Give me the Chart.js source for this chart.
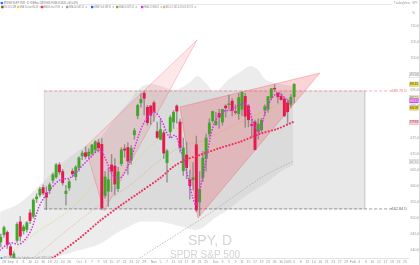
<!DOCTYPE html>
<html lang="en">
<head>
  <meta charset="UTF-8" />
  <title>SPY, D</title>
  <script src="https://cdn.jsdelivr.net/npm/chart.js"></script>
  <style>
    html, body { margin: 0; padding: 0; background: #ffffff; }
    #chart { display: block; }
  </style>
</head>
<body>
  <canvas id="chart" width="420" height="265"></canvas>

  <script>
    // daily bars, first one sits at bar index -1 (Aug 27, partly cut off)
    const firstBarIndex = -1;
    const candleDates = ['Aug 27','Aug 28','Aug 29',
      'Sep 2','Sep 3','Sep 4','Sep 5','Sep 8','Sep 9','Sep 10','Sep 11','Sep 12','Sep 15','Sep 16','Sep 17','Sep 18','Sep 19','Sep 22','Sep 23','Sep 24','Sep 25','Sep 26','Sep 29','Sep 30',
      'Oct 1','Oct 2','Oct 3','Oct 6','Oct 7','Oct 8','Oct 9','Oct 10','Oct 13','Oct 14','Oct 15','Oct 16','Oct 17','Oct 20','Oct 21','Oct 22','Oct 23','Oct 24','Oct 27','Oct 28','Oct 29','Oct 30','Oct 31',
      'Nov 3','Nov 4','Nov 5','Nov 6','Nov 7','Nov 10','Nov 11','Nov 12','Nov 13','Nov 14','Nov 17','Nov 18','Nov 19','Nov 20','Nov 21','Nov 24','Nov 25','Nov 26','Nov 28',
      'Dec 1','Dec 2','Dec 3','Dec 4','Dec 5','Dec 8','Dec 9','Dec 10','Dec 11','Dec 12','Dec 15','Dec 16','Dec 17','Dec 18','Dec 19','Dec 22','Dec 23','Dec 24','Dec 26','Dec 29','Dec 30','Dec 31',
      'Jan 2','Jan 5','Jan 6'];

    const openP = [642.5, 644.8, 645.5,
      641.0, 637.2, 643.0, 648.8, 646.0, 646.4, 651.6, 650.5, 656.0, 657.2, 659.5, 657.8, 658.6, 661.8, 662.8, 666.6, 664.5, 657.6, 659.4, 664.6, 662.9,
      665.8, 669.4, 670.4, 669.5, 670.2, 671.3, 673.5, 673.0, 657.0, 658.4, 666.6, 666.2, 659.2, 667.0, 671.6, 672.0, 668.0, 676.0, 682.0, 686.0, 689.0, 684.6, 685.0,
      686.0, 677.0, 674.6, 676.6, 667.3, 677.0, 680.0, 685.0, 680.0, 664.8, 669.7, 662.0, 662.0, 672.9, 655.0, 662.7, 668.6, 676.3, 680.4,
      679.2, 682.7, 680.0, 685.0, 685.4, 686.5, 683.2, 682.6, 684.0, 688.0, 685.0, 679.2, 680.0, 677.0, 677.6, 683.8, 684.0, 687.6, 690.5, 689.0, 688.0, 687.2,
      686.0, 685.5, 687.9];
    const highP = [645.0, 647.5, 646.0,
      641.8, 639.5, 648.6, 650.5, 647.8, 648.9, 652.6, 656.0, 657.6, 659.6, 660.4, 659.8, 661.0, 664.0, 667.1, 667.3, 665.2, 660.2, 662.0, 665.4, 666.4,
      669.2, 671.0, 672.2, 671.6, 673.0, 674.2, 674.6, 674.8, 664.5, 665.6, 669.9, 668.6, 665.8, 672.0, 672.9, 673.6, 672.6, 678.0, 685.6, 688.9, 689.7, 685.2, 685.2,
      686.6, 680.0, 680.9, 677.4, 671.4, 682.0, 683.6, 685.4, 680.9, 675.0, 673.7, 665.0, 667.3, 675.6, 664.5, 670.8, 676.2, 681.0, 683.4,
      683.0, 684.0, 684.0, 685.4, 688.4, 687.3, 685.4, 688.9, 689.5, 688.9, 685.5, 681.0, 680.6, 681.0, 681.1, 685.4, 688.0, 690.5, 691.7, 689.2, 688.9, 687.4,
      687.0, 688.6, 692.0];
    const lowP = [641.0, 644.0, 640.5,
      636.8, 636.5, 642.4, 642.8, 645.0, 645.6, 648.2, 650.0, 654.8, 656.6, 657.2, 652.6, 657.6, 661.0, 662.4, 663.6, 660.3, 654.0, 658.6, 662.8, 661.8,
      664.6, 668.2, 668.4, 668.8, 669.6, 670.6, 670.6, 652.6, 656.2, 653.6, 658.2, 657.2, 658.2, 666.4, 669.0, 663.6, 666.8, 674.6, 681.0, 684.6, 682.2, 679.0, 679.2,
      680.2, 674.8, 674.4, 668.6, 661.2, 675.2, 678.0, 679.6, 670.6, 663.3, 662.3, 655.9, 658.8, 651.9, 650.8, 661.4, 664.6, 675.4, 679.9,
      678.9, 678.0, 679.0, 681.5, 684.0, 682.0, 682.4, 680.8, 682.0, 678.4, 678.5, 675.0, 671.2, 674.6, 676.7, 682.0, 683.0, 687.3, 689.5, 685.9, 686.8, 681.7,
      679.6, 684.6, 686.0];
    const closeP = [644.0, 647.0, 641.6,
      638.4, 638.8, 648.0, 644.3, 647.2, 648.5, 649.2, 655.6, 656.6, 659.0, 657.8, 656.5, 660.4, 663.5, 666.6, 664.4, 661.0, 658.4, 661.3, 663.8, 665.9,
      668.8, 670.3, 669.2, 670.6, 672.8, 673.8, 671.9, 653.1, 662.8, 662.0, 664.6, 660.6, 664.4, 671.3, 671.2, 667.8, 671.8, 677.3, 685.2, 687.1, 687.4, 679.8, 682.1,
      683.3, 675.2, 677.6, 670.3, 671.0, 681.4, 683.0, 683.4, 672.0, 671.9, 665.7, 660.1, 662.6, 652.5, 659.0, 668.7, 675.0, 679.7, 683.3,
      680.3, 681.5, 683.9, 684.4, 685.7, 683.6, 683.0, 687.6, 689.2, 681.8, 680.7, 678.9, 671.4, 679.4, 680.6, 684.8, 687.9, 690.4, 690.3, 687.9, 687.0, 681.9,
      683.2, 687.7, 691.8];

    // overlays, read at bar index / price
    const magentaX = [-1.2, 1.8, 4.9, 8.0, 11.0, 14.1, 17.2, 20.2, 23.3, 26.4, 29.4, 31.3, 33.4, 35.6, 37.7, 39.6, 42.6, 45.7, 47.9, 50.9, 52.5, 54.0, 55.8, 57.7, 58.9, 60.1, 62.0, 64.1, 66.9, 69.9, 73.3, 74.8, 76.4, 78.2, 80.7, 83.7, 85.3, 87.1, 88.7];
    const magentaY = [640.0, 642.2, 641.9, 645.6, 654.1, 658.8, 661.9, 662.5, 665.6, 668.8, 671.3, 668.1, 663.4, 662.5, 665.6, 670.6, 679.1, 683.1, 681.3, 675.0, 675.9, 671.9, 665.6, 657.2, 654.1, 658.8, 668.1, 678.4, 683.1, 683.8, 685.9, 685.0, 680.0, 676.9, 684.7, 689.1, 688.4, 686.6, 686.6];
    const redX = [11.0, 15.0, 23.3, 29.4, 35.6, 41.7, 47.9, 51.8, 55.5, 60.1, 66.3, 72.4, 78.5, 83.7, 88.7];
    const redY = [634.4, 637.5, 643.8, 649.1, 653.8, 658.1, 662.5, 665.9, 668.1, 669.7, 671.9, 673.8, 676.3, 677.8, 680.0];
    const grayX = [38.7, 41.7, 51.8, 62.3, 72.4, 80.1, 88.7];
    const grayY = [635.0, 637.5, 644.1, 650.9, 658.1, 663.4, 667.8];
    const yellowX = [-1.2, 8.9, 19.3, 25.5, 29.4, 34.7, 37.7, 42.6, 46.9, 51.8, 54.9, 60.1, 63.8, 69.3, 75.5, 81.6, 88.7];
    const yellowY = [636.3, 644.7, 651.9, 658.1, 662.5, 663.8, 664.7, 670.3, 674.1, 677.8, 677.2, 672.8, 671.9, 675.9, 680.6, 683.1, 684.4];
    const tanX = [4.9, 12.0, 20.2, 29.4, 38.7, 47.9, 55.5, 60.1, 66.3, 73.9, 80.7, 88.7];
    const tanY = [634.4, 640.0, 646.9, 654.1, 660.3, 668.1, 672.8, 673.8, 676.9, 680.6, 683.8, 687.5];

    const bandX = [-1.2, 4.9, 11.0, 17.2, 23.3, 29.4, 34.1, 38.7, 41.7, 44.8, 47.9, 52.5, 57.1, 59.2, 61.7, 64.7, 68.7, 72.4, 75.5, 77.9, 80.4, 84.7, 88.7];
    const bandUpper = [651.9, 654.7, 660.3, 666.6, 671.3, 675.0, 681.3, 686.9, 690.6, 691.9, 691.3, 690.0, 692.5, 694.4, 692.5, 689.4, 693.1, 695.6, 697.5, 696.3, 693.1, 691.9, 691.3];
    const bandLower = [633.1, 634.4, 635.9, 638.1, 640.0, 641.9, 645.0, 647.5, 648.8, 648.8, 648.8, 647.8, 646.6, 646.3, 647.5, 650.0, 652.5, 655.6, 657.8, 659.4, 660.9, 664.4, 666.6];

    // drawings
    const triAX = [24.9, 59.2, 30.7, 24.9];
    const triAY = [672.2, 705.6, 652.2, 672.2];
    const triBX = [54.0, 96.9, 59.5, 54.0];
    const triBY = [684.7, 695.3, 650.0, 684.7];
    const boxLeft = 12.3, boxRight = 110.7, levelEnd = 119.9;
    const boxTop = 689.70, boxBottom = 652.84;

    // axes
    const xMin = -1.227, xMax = 123.93;
    const yMin = 637.5, yMax = 711.875;
    const priceTicks = [640, 645, 650, 655, 660, 665, 670, 675, 680, 685, 690, 695, 700, 705, 710];
    const tickIdx = [0, 2, 4, 6, 8, 10, 12, 14, 16, 18, 20, 23, 25, 27, 29, 31, 33, 35, 37, 39, 41, 43, 46, 48, 50, 52, 54, 56, 58, 60, 62, 65, 67, 69, 71, 73, 75, 77, 79, 81, 83, 85, 87, 89, 91, 93, 95, 97, 99, 101, 103, 105, 107, 109, 111, 113, 115, 117, 119, 121, 123];
    const tickText = ['28','Sep','4','8','10','12','16','18','22','24','26','Oct','3','7','9','13','15','17','21','23','27','29','Nov','5','7','11','13','17','19','21','25','Dec','3','5','9','11','15','17','19','23','26','30','2026','6','8','12','14','16','21','23','27','29','Feb','4','6','10','12','17','19','23','25'];

    const axisMarks = [694.68, 691.81, 687.52, 686.61, 684.38, 679.83, 667.62];
    const axisMarkFill = ['#ffffff', '#f2e23c', '#f3eebc', '#e040fb', '#f2e23c', '#fbd3d8', '#ffffff'];
    const axisMarkText = ['#777777', '#333333', '#555555', '#ffffff', '#333333', '#e5194c', '#777777'];

    const up = '#41a62a', down = '#e5194c';
    const pts = (xs, ys) => xs.map((x, k) => ({ x: x, y: ys[k] }));
    const bodies = closeP.map((c, k) => ({ x: firstBarIndex + k, y: [openP[k], c] }));
    const wicks = closeP.map((c, k) => ({ x: firstBarIndex + k, y: [lowP[k], highP[k]] }));
    const bodyColors = closeP.map((c, k) => c >= openP[k] ? up : down);

    const font = '"Liberation Sans", Arial, sans-serif';

    const overlay = {
      id: 'overlay',
      beforeDatasetsDraw(chart) {
        const ctx = chart.ctx;
        ctx.save();
        ctx.fillStyle = '#d4d4d4';
        ctx.textAlign = 'center';
        ctx.textBaseline = 'alphabetic';
        ctx.font = '14px ' + font;
        ctx.fillText('SPY, D', 210, 245);
        ctx.font = '10px ' + font;
        ctx.fillText('SPDR S&P 500', 205, 258);
        ctx.restore();
      },
      afterDraw(chart) {
        const ctx = chart.ctx;
        const ys = chart.scales.y;
        const area = chart.chartArea;
        ctx.save();
        ctx.textBaseline = 'middle';

        // level labels
        ctx.font = '3.8px ' + font;
        ctx.textAlign = 'right';
        ctx.fillStyle = '#f07b87';
        ctx.fillText(boxTop.toFixed(2) + ' D', area.right - 1, ys.getPixelForValue(boxTop));
        ctx.fillStyle = '#666666';
        ctx.fillText(boxBottom.toFixed(2) + ' D', area.right - 1, ys.getPixelForValue(boxBottom));

        // price axis marks
        ctx.textAlign = 'left';
        ctx.font = '3.4px ' + font;
        axisMarks.forEach((v, k) => {
          const py = ys.getPixelForValue(v);
          ctx.fillStyle = axisMarkFill[k];
          ctx.fillRect(area.right + 1.5, py - 2.2, 9, 4.4);
          ctx.strokeStyle = 'rgba(150,150,150,0.7)';
          ctx.lineWidth = 0.4;
          ctx.strokeRect(area.right + 1.5, py - 2.2, 9, 4.4);
          ctx.fillStyle = axisMarkText[k];
          ctx.fillText(v.toFixed(2), area.right + 2, py, 8);
        });

        // right border
        ctx.strokeStyle = '#d8d8d8';
        ctx.lineWidth = 1;
        ctx.beginPath();
        ctx.moveTo(419.5, 0);
        ctx.lineTo(419.5, 265);
        ctx.stroke();

        // header row 1
        ctx.fillStyle = '#2962ff';
        ctx.beginPath();
        ctx.arc(1.8, 3, 1.3, 0, Math.PI * 2);
        ctx.fill();
        ctx.font = '3.6px ' + font;
        ctx.fillStyle = '#666666';
        ctx.fillText('SPDR S&P 500 ETF TRUST · 1D · NYSE Arca  O687.93 H691.99 L686.03 C691.81 +4.09 (+0.59%)', 4, 3, 74);
        ctx.strokeStyle = '#e6e6e6';
        ctx.beginPath();
        ctx.moveTo(79, 4.5);
        ctx.lineTo(392, 4.5);
        ctx.stroke();
        ctx.fillStyle = '#999999';
        ctx.fillText('TradingView · SPY', 394, 3, 24);
        ctx.fillText('%', 412, 12.5, 4);

        // header row 2, indicator legend
        const legX = [1, 17, 41, 66, 91, 116, 141, 163];
        const legW = [12, 18, 16, 15, 17, 15, 15, 27];
        const legC = [up, '#e3cf52', '#f23645', '#9e9e9e', '#2962ff', '#a39a3c', '#d633e6', '#d9b38c'];
        const legT = ['Vol 53.12M', 'EMA 20 close 684.38', 'EMA 50 close 679.83', 'SMA 200 667.62', 'VWAP hlc3 689.95',
          'SMA 50 687.52', 'HMA 21 686.61', 'BB 20 2 682.10 693.45 670.75'];
        legX.forEach((x, k) => {
          ctx.fillStyle = legC[k];
          ctx.fillRect(x, 5.8, 2.4, 2.4);
          if (k === 0) { ctx.fillStyle = down; ctx.fillRect(x + 1.2, 5.8, 1.2, 2.4); }
          ctx.fillStyle = '#8a8a8a';
          ctx.fillText(legT[k], x + 3, 7, legW[k]);
          ctx.fillStyle = '#c2c2c2';
          ctx.fillRect(x + legW[k] + 4.5, 6.2, 1.6, 1.6);
        });

        // footer note
        ctx.fillStyle = '#1e88e5';
        ctx.beginPath();
        ctx.arc(1.5, 258, 1, 0, Math.PI * 2);
        ctx.fill();
        ctx.fillStyle = '#8a8a8a';
        ctx.font = '3.2px ' + font;
        ctx.fillText('SPY, 1D · Published on TradingView.com, Jan 06, 2026 21:04 UTC', 3.5, 258, 50);
        ctx.restore();
      }
    };

    const ctx = document.getElementById('chart').getContext('2d');
    new Chart(ctx, {
      type: 'bar',
      data: {
        datasets: [
          {
            type: 'line', label: 'box', order: 20,
            data: pts([boxLeft, boxRight, boxRight, boxLeft, boxLeft], [boxTop, boxTop, boxBottom, boxBottom, boxTop]),
            fill: 'shape', backgroundColor: 'rgba(210,210,210,0.5)',
            borderColor: 'rgba(180,180,180,0.6)', borderWidth: 0.5, pointRadius: 0, tension: 0
          },
          {
            type: 'line', label: 'band upper', order: 19,
            data: pts(bandX, bandUpper), fill: '+1', backgroundColor: 'rgba(185,185,185,0.28)',
            borderWidth: 0, pointRadius: 0, tension: 0.35
          },
          {
            type: 'line', label: 'band lower', order: 19,
            data: pts(bandX, bandLower), fill: false,
            borderWidth: 0, pointRadius: 0, tension: 0.35
          },
          {
            type: 'line', label: 'triangle 1', order: 18,
            data: pts(triAX, triAY), fill: 'shape', backgroundColor: 'rgba(242,54,69,0.12)',
            borderColor: 'rgba(242,54,69,0.35)', borderWidth: 0.7, pointRadius: 0, tension: 0
          },
          {
            type: 'line', label: 'triangle 2', order: 17,
            data: pts(triBX, triBY), fill: 'shape', backgroundColor: 'rgba(242,54,69,0.22)',
            borderColor: 'rgba(242,54,69,0.4)', borderWidth: 0.7, pointRadius: 0, tension: 0
          },
          {
            type: 'line', label: 'high level', order: 16,
            data: pts([boxLeft, levelEnd], [boxTop, boxTop]),
            borderColor: 'rgba(242,54,69,0.45)', borderWidth: 0.9, borderDash: [3, 2], pointRadius: 0
          },
          {
            type: 'line', label: 'low level', order: 16,
            data: pts([boxLeft, levelEnd], [boxBottom, boxBottom]),
            borderColor: 'rgba(110,110,110,0.75)', borderWidth: 0.9, borderDash: [3, 2], pointRadius: 0
          },
          {
            type: 'line', label: 'gray ma', order: 6,
            data: pts(grayX, grayY), borderColor: '#ababab', borderWidth: 0.8,
            borderDash: [1.5, 1.5], pointRadius: 0, tension: 0.3
          },
          {
            type: 'line', label: 'tan ma', order: 5,
            data: pts(tanX, tanY), borderColor: 'rgba(214,168,112,0.8)', borderWidth: 0.8,
            borderDash: [1.5, 1.5], pointRadius: 0, tension: 0.35
          },
          {
            type: 'line', label: 'yellow ma', order: 5,
            data: pts(yellowX, yellowY), borderColor: 'rgba(227,207,82,0.9)', borderWidth: 0.8,
            borderDash: [1.5, 1.5], pointRadius: 0, tension: 0.35
          },
          {
            type: 'bar', label: 'wicks', order: 2, grouped: false,
            data: wicks, backgroundColor: 'rgba(125,125,125,0.75)', barThickness: 0.8
          },
          {
            type: 'bar', label: 'bodies', order: 1, grouped: false,
            data: bodies, backgroundColor: bodyColors, barThickness: 2.3, minBarLength: 0.8
          },
          {
            type: 'line', label: 'red dotted', order: 0,
            data: pts(redX, redY), borderColor: '#f0305a', borderWidth: 2.1,
            borderDash: [0.01, 3.2], borderCapStyle: 'round', pointRadius: 0, tension: 0.3
          },
          {
            type: 'line', label: 'magenta dotted', order: -1,
            data: pts(magentaX, magentaY), borderColor: '#d633e6', borderWidth: 1.7,
            borderDash: [0.01, 2.9], borderCapStyle: 'round', pointRadius: 0, tension: 0.35
          }
        ]
      },
      options: {
        responsive: false,
        animation: false,
        devicePixelRatio: 1,
        layout: { padding: { top: 20, left: 0, right: 0, bottom: 0 } },
        plugins: {
          legend: { display: false },
          tooltip: { enabled: false }
        },
        scales: {
          x: {
            type: 'linear', min: xMin, max: xMax, offset: false,
            grid: { display: false, drawTicks: false },
            border: { display: true, color: '#e2e2e2' },
            afterBuildTicks: s => { s.ticks = tickIdx.map(v => ({ value: v })); },
            afterFit: s => { s.height = 7; },
            ticks: {
              autoSkip: false, maxRotation: 0, padding: 1.5,
              font: { size: 3.5 }, color: '#9a9a9a',
              callback: (v, k) => tickText[k]
            }
          },
          y: {
            position: 'right', min: yMin, max: yMax,
            grid: { display: false, drawTicks: false },
            border: { display: false },
            afterBuildTicks: s => { s.ticks = priceTicks.map(v => ({ value: v })); },
            afterFit: s => { s.width = 12; },
            ticks: {
              padding: 2.5, font: { size: 3.5 }, color: '#9a9a9a',
              callback: v => v.toFixed(2)
            }
          }
        }
      },
      plugins: [overlay]
    });
  </script>
</body>
</html>
